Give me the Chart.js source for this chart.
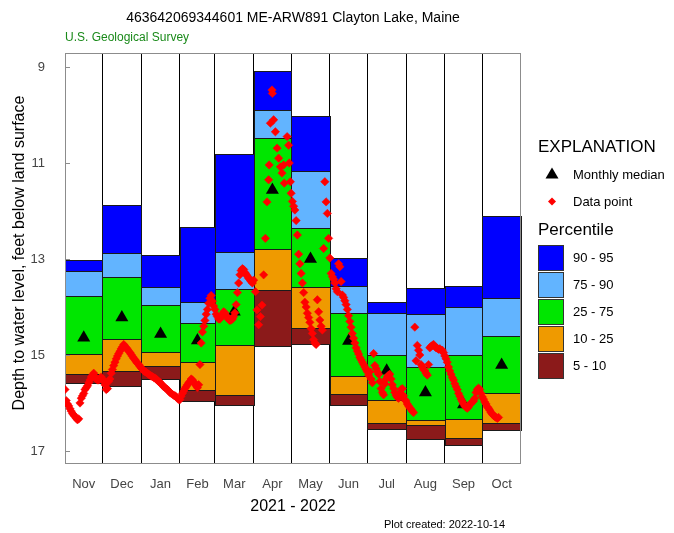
<!DOCTYPE html>
<html>
<head>
<meta charset="utf-8">
<title>Clayton Lake, Maine</title>
<script src="https://cdn.jsdelivr.net/npm/chart.js@4.4.0/dist/chart.umd.min.js"></script>
<style>
  html, body { margin: 0; padding: 0; background: #fff; }
</style>
</head>
<body>
<canvas id="grafica" width="674" height="533"></canvas>
<script>
// water year 2021 - 2022, days counted from Nov 1
const meses = ['Nov','Dec','Jan','Feb','Mar','Apr','May','Jun','Jul','Aug','Sep','Oct'];
const inicioMes = [0, 30, 61, 92, 120, 151, 181, 212, 242, 273, 304, 334, 365];
const yTicks = [9, 11, 13, 15, 17];

// monthly percentiles (feet below land surface)
const p95 = [13.02, 11.88, 12.92, 12.34, 10.82, 9.08, 10.03, 12.97, 13.90, 13.61, 13.56, 12.10];
const p90 = [13.25, 12.88, 13.58, 13.90, 12.85, 9.90, 11.17, 13.56, 14.13, 14.15, 13.99, 13.82];
const p75 = [13.78, 13.37, 13.95, 14.34, 13.63, 10.47, 12.35, 14.13, 15.00, 15.26, 15.00, 14.60];
const p25 = [14.98, 14.67, 14.93, 15.15, 14.80, 12.80, 13.59, 15.44, 15.94, 16.35, 16.34, 15.80];
const p10 = [15.40, 15.33, 15.22, 15.73, 15.84, 13.65, 14.44, 15.82, 16.42, 16.46, 16.72, 16.42];
const p05 = [15.59, 15.64, 15.49, 15.95, 16.05, 14.81, 14.78, 16.05, 16.55, 16.74, 16.88, 16.56];
const mediana = [14.64, 14.22, 14.56, 14.70, 14.10, 11.56, 13.00, 14.71, 15.33, 15.78, 16.03, 15.21];

// measured depths: day (from Nov 1) and value
const diasDato = [
  0,1,2,3,4,5,6,7,8,9,10,11,12,13,14,15,16,17,18,19,20,21,22,23,24,25,26,27,28,29,
  30,31,32,33,34,35,36,37,38,39,40,41,42,43,44,45,46,47,48,49,50,51,52,53,54,55,56,57,58,59,60,
  61,62,63,64,65,66,67,68,69,70,71,72,73,74,75,76,77,78,79,80,81,82,83,84,85,86,87,88,89,90,91,
  92,93,94,95,96,97,98,99,100,101,102,103,104,105,106,107,108,109,110,111,112,113,114,115,116,117,118,119,
  120,121,122,123,124,125,126,127,128,129,130,131,132,133,134,135,136,137,138,139,140,141,142,143,144,145,146,147,148,149,150,
  151,152.4,153.7,155,156.4,157.7,159,160.4,161.7,163,163.4,164.4,165.7,166,167,168.4,169.8,171,172.4,173.7,175,175.5,177.8,179,179.5,180.4,
  181,182,183,184,185,186,187,188,189,190,191,192,193,194,195,196,197,198,199,200,201,202,203,204,205,206,207,208,209,210,211,
  212,213,214,215,216,217,218,219,220,221,222,223,224,225,226,227,228,229,230,231,232,233,234,235,236,237,238,239,240,241,
  242,243,244,245,246,247,248,249,250,251,252,253,254,255,256,257,258,259,260,261,262,263,264,265,266,267,268,269,270,271,272,
  273,274,275,276,277,278,279,280,281,282,283,284,285,286,287,288,289,290,291,292,293,294,295,296,297,298,299,300,301,302,303,
  304,305,306,307,308,309,310,311,312,313,314,315,316,317,318,319,320,321,322,323,324,325,326,327,328,329,330,331,332,333,
  334,335,336,337,338,339,340,341,342,343,344,345,346,347
];
const nivelDato = [
  15.72,15.95,16.02,16.06,16.12,16.17,16.22,16.25,16.28,16.32,16.35,16.33,16.00,15.90,15.85,15.80,15.72,15.68,15.64,15.58,15.52,15.46,15.42,15.38,15.45,15.50,15.52,15.52,15.48,15.46,
  15.50,15.55,15.62,15.72,15.70,15.55,15.50,15.38,15.30,15.22,15.15,15.08,15.02,14.97,14.92,14.87,14.83,14.78,14.82,14.85,14.88,14.92,14.95,14.99,15.03,15.07,15.10,15.14,15.17,15.20,15.24,
  15.27,15.30,15.33,15.35,15.36,15.38,15.40,15.42,15.44,15.45,15.47,15.48,15.50,15.53,15.55,15.57,15.60,15.63,15.66,15.68,15.70,15.72,15.75,15.78,15.80,15.82,15.84,15.85,15.87,15.90,15.93,
  15.93,15.86,15.80,15.75,15.70,15.66,15.62,15.58,15.55,15.50,15.52,15.56,15.60,15.64,15.68,15.62,15.20,14.75,14.52,14.40,14.28,14.15,14.05,13.92,13.82,13.76,13.88,13.98,
  14.05,14.15,14.20,14.25,14.25,14.20,14.15,14.10,14.12,14.18,14.22,14.26,14.28,14.27,14.25,14.20,14.12,13.95,13.70,13.50,13.33,13.24,13.20,13.22,13.28,13.32,13.36,13.40,13.43,13.47,13.50,
  13.44,13.68,14.06,14.37,14.20,13.96,13.33,12.57,11.81,11.35,11.04,10.17,9.48,9.55,10.10,10.35,10.69,10.90,11.08,11.21,11.04,11.42,10.45,10.63,11.00,11.39,
  11.63,11.80,11.90,11.98,12.20,12.50,12.90,13.10,13.30,13.50,13.70,13.90,14.00,14.13,14.22,14.32,14.45,14.55,14.68,14.75,14.78,13.85,14.10,14.27,14.40,14.48,12.78,11.39,11.81,12.05,12.57,
  12.98,13.30,13.37,13.42,13.50,13.62,13.68,13.10,13.16,13.47,13.75,13.80,13.87,13.95,14.05,14.18,14.30,14.42,14.55,14.65,14.75,14.85,14.92,14.98,15.05,15.10,15.15,15.20,15.25,15.30,
  15.35,15.42,15.35,15.50,15.58,14.97,15.22,15.28,15.35,15.40,15.55,15.70,15.78,15.83,15.60,15.50,15.45,15.42,15.40,15.50,15.62,15.70,15.78,15.84,15.88,15.90,15.80,15.72,15.70,15.85,15.93,
  15.96,16.02,16.06,16.10,16.13,16.17,16.20,14.42,15.12,14.80,14.90,15.00,15.20,15.25,15.30,15.33,15.38,15.42,15.20,14.85,14.82,14.80,14.78,14.82,14.85,14.86,14.88,14.87,14.90,14.90,14.95,
  15.02,15.08,15.15,15.25,15.33,15.40,15.47,15.52,15.60,15.66,15.72,15.80,15.86,15.92,15.97,16.02,16.06,16.09,16.11,16.08,16.03,16.00,15.98,15.96,15.90,15.78,15.72,15.69,15.72,15.80,
  15.87,15.92,15.98,16.02,16.08,16.11,16.15,16.20,16.23,16.26,16.28,16.30,16.32,16.30
];

const bandas = [
  { arriba: p95, abajo: p90, color: '#0000ff', texto: '90 - 95' },
  { arriba: p90, abajo: p75, color: '#62b4ff', texto: '75 - 90' },
  { arriba: p75, abajo: p25, color: '#00e600', texto: '25 - 75' },
  { arriba: p25, abajo: p10, color: '#ef9a00', texto: '10 - 25' },
  { arriba: p10, abajo: p05, color: '#8b1a1a', texto: '5 - 10' }
];

const FUENTE = 'Liberation Sans, Arial, sans-serif';

const puntos = diasDato.map((d, i) => ({ x: d, y: nivelDato[i] }));
const medianas = meses.map((m, i) => ({ x: (inicioMes[i] + inicioMes[i + 1]) / 2, y: mediana[i] }));

// boxes, frame and inner ticks under the points
const fondo = {
  id: 'fondo',
  beforeDatasetsDraw(chart) {
    const { ctx, chartArea: a, scales: { x, y } } = chart;
    ctx.save();
    ctx.lineWidth = 1;
    for (let i = 0; i < meses.length; i++) {
      const x0 = Math.round(x.getPixelForValue(inicioMes[i]));
      const x1 = Math.round(x.getPixelForValue(inicioMes[i + 1]));
      bandas.forEach(b => {
        const y0 = Math.round(y.getPixelForValue(b.arriba[i]));
        const y1 = Math.round(y.getPixelForValue(b.abajo[i]));
        ctx.fillStyle = b.color;
        ctx.fillRect(x0, y0, x1 - x0, y1 - y0);
        ctx.strokeStyle = '#1a1a1a';
        ctx.strokeRect(x0 + 0.5, y0 + 0.5, x1 - x0, y1 - y0);
      });
    }
    ctx.strokeStyle = '#8c8c8c';
    ctx.strokeRect(Math.round(a.left) + 0.5, Math.round(a.top) + 0.5,
      Math.round(a.right - a.left) - 1, Math.round(a.bottom - a.top));
    ctx.beginPath();
    yTicks.forEach(t => {
      const py = Math.round(y.getPixelForValue(t)) + 0.5;
      ctx.moveTo(a.left, py);
      ctx.lineTo(a.left + 5, py);
    });
    ctx.stroke();
    ctx.restore();
  },
  afterDraw(chart) {
    const { ctx, chartArea: a } = chart;
    ctx.save();
    ctx.textBaseline = 'middle';
    ctx.fillStyle = '#000';
    ctx.textAlign = 'center';
    ctx.font = '14px ' + FUENTE;
    ctx.fillText('463642069344601 ME-ARW891 Clayton Lake, Maine', (a.left + a.right) / 2, 18);
    ctx.font = '16px ' + FUENTE;
    ctx.fillText('2021 - 2022', (a.left + a.right) / 2, 507);
    ctx.save();
    ctx.translate(20, (a.top + a.bottom) / 2 - 5);
    ctx.rotate(-Math.PI / 2);
    ctx.fillText('Depth to water level, feet below land surface', 0, 0);
    ctx.restore();

    ctx.textAlign = 'left';
    ctx.font = '12px ' + FUENTE;
    ctx.fillStyle = '#1a8a1a';
    ctx.fillText('U.S. Geological Survey', a.left, 38);
    ctx.fillStyle = '#000';
    ctx.font = '11px ' + FUENTE;
    ctx.textAlign = 'right';
    ctx.fillText('Plot created: 2022-10-14', 505, 525);

    // explanation
    const lx = 538;
    ctx.textAlign = 'left';
    ctx.font = '17px ' + FUENTE;
    ctx.fillText('EXPLANATION', lx, 147);
    ctx.font = '13px ' + FUENTE;
    ctx.fillText('Monthly median', 573, 175);
    ctx.fillText('Data point', 573, 202);
    ctx.beginPath();
    ctx.moveTo(552, 167.5); ctx.lineTo(558.5, 178.5); ctx.lineTo(545.5, 178.5); ctx.closePath();
    ctx.fill();
    ctx.fillStyle = '#ff0000';
    ctx.beginPath();
    ctx.moveTo(552, 197.5); ctx.lineTo(556, 201.5); ctx.lineTo(552, 205.5); ctx.lineTo(548, 201.5); ctx.closePath();
    ctx.fill();
    ctx.fillStyle = '#000';
    ctx.font = '17px ' + FUENTE;
    ctx.fillText('Percentile', lx, 230);
    ctx.font = '13px ' + FUENTE;
    bandas.forEach((b, i) => {
      const by = 245 + i * 27;
      ctx.fillStyle = b.color;
      ctx.fillRect(lx, by, 25, 25);
      ctx.strokeStyle = '#333';
      ctx.strokeRect(lx + 0.5, by + 0.5, 25, 25);
      ctx.fillStyle = '#000';
      ctx.fillText(b.texto, 573, by + 13);
    });
    ctx.restore();
  }
};

new Chart(document.getElementById('grafica'), {
  type: 'scatter',
  data: {
    datasets: [
      {
        data: puntos,
        pointStyle: 'rectRot',
        pointRadius: 4.2,
        pointBackgroundColor: '#ff0000',
        pointBorderColor: '#ff0000',
        pointBorderWidth: 0.5,
        order: 0
      },
      {
        data: medianas,
        pointStyle: 'triangle',
        pointRadius: 7.5,
        pointBackgroundColor: '#000',
        pointBorderColor: '#000',
        pointBorderWidth: 0,
        order: 1
      }
    ]
  },
  options: {
    responsive: false,
    animation: false,
    devicePixelRatio: 1,
    layout: { padding: { top: 53, right: 153, left: 0, bottom: 0 } },
    plugins: { legend: { display: false }, tooltip: { enabled: false } },
    scales: {
      x: {
        type: 'linear', position: 'bottom', min: 0, max: 365,
        grid: { display: false }, border: { display: false },
        afterBuildTicks: s => { s.ticks = medianas.map(m => ({ value: m.x })); },
        ticks: {
          autoSkip: false, maxRotation: 0, padding: 6, color: '#444',
          font: { size: 13, family: FUENTE },
          callback: (v, i) => meses[i]
        },
        afterFit: s => { s.height = 70; }
      },
      xb: {
        type: 'linear', position: 'bottom', min: 0, max: 365,
        afterBuildTicks: s => { s.ticks = inicioMes.slice(1, -1).map(v => ({ value: v })); },
        ticks: { display: false },
        grid: { color: '#000', lineWidth: 1, drawTicks: false },
        border: { display: false },
        afterFit: s => { s.height = 0; }
      },
      y: {
        type: 'linear', reverse: true, min: 8.708, max: 17.25,
        afterBuildTicks: s => { s.ticks = yTicks.map(v => ({ value: v })); },
        grid: { display: false }, border: { display: false },
        ticks: { padding: 12, color: '#444', font: { size: 13, family: FUENTE } },
        afterFit: s => { s.width = 65; }
      }
    }
  },
  plugins: [fondo]
});
</script>
</body>
</html>
